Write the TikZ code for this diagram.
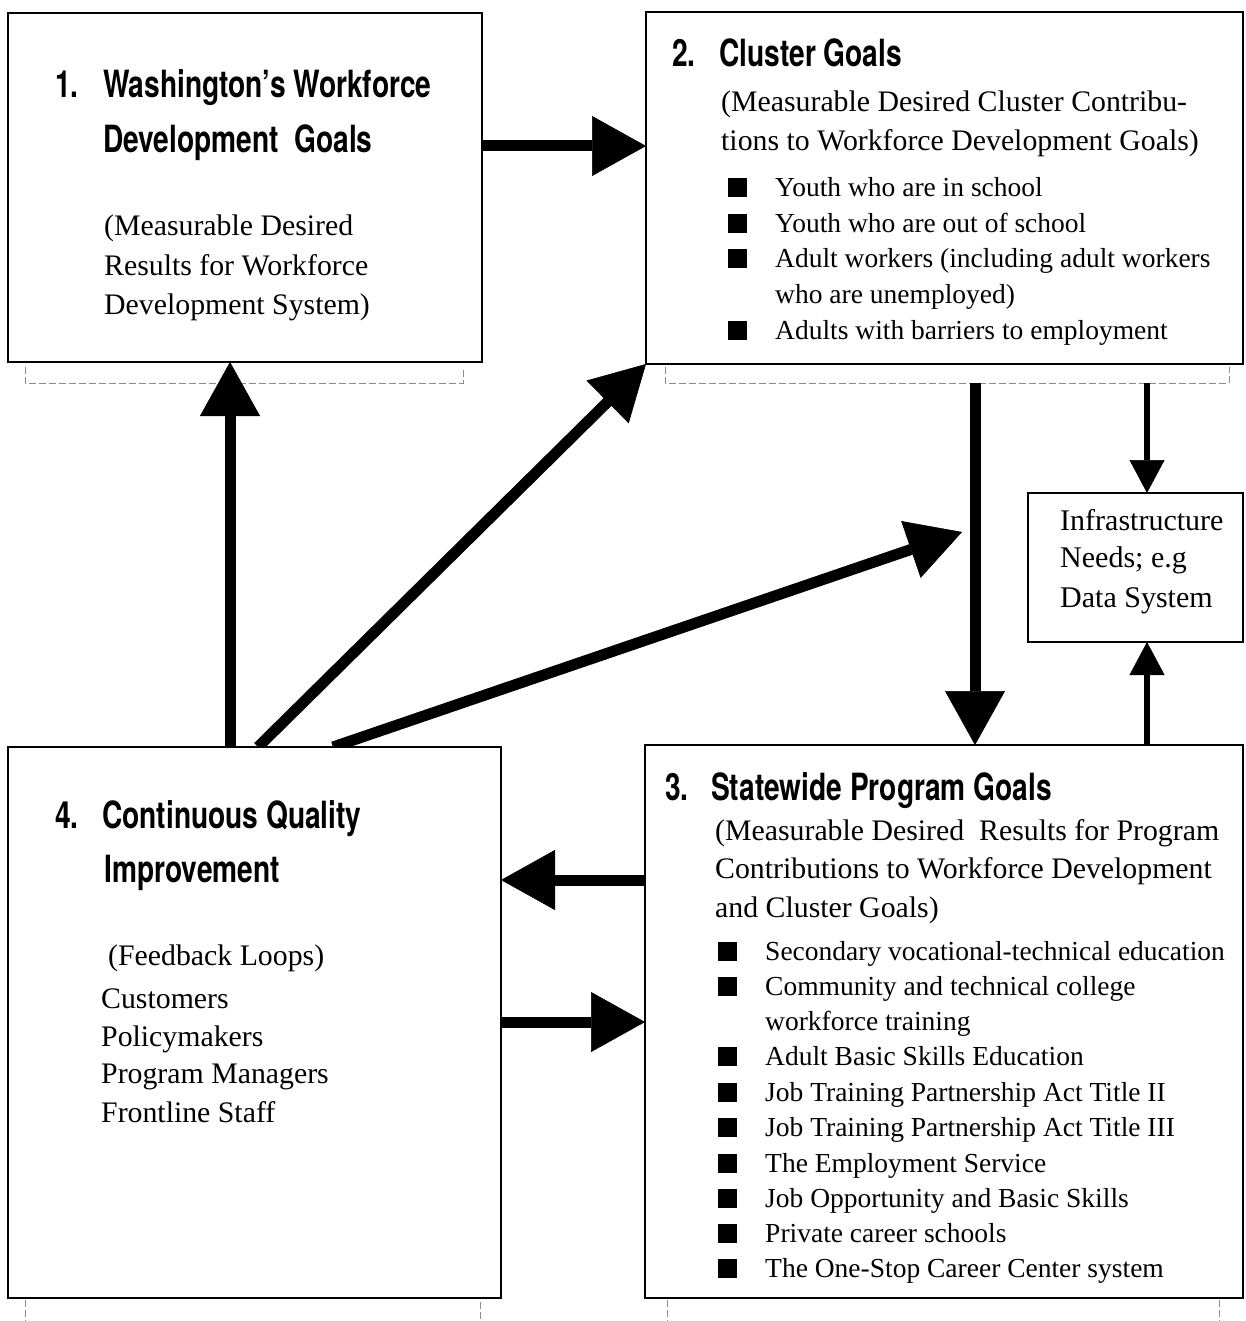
\documentclass[tikz,border=0pt]{standalone}
\usepackage{fontspec}
\setmainfont{Liberation Serif}
\newfontfamily\hdfont[FakeStretch=0.75]{TeX Gyre Heros}
\usetikzlibrary{arrows.meta,backgrounds}
\begin{document}
\begin{tikzpicture}[x=1pt,y=-1pt,
  box/.style={draw, fill=white, line width=2.8pt, inner sep=0pt, outer sep=0pt, anchor=north west},
  hd/.style={inner sep=0pt, anchor=base west, font=\hdfont\bfseries\fontsize{37.5}{45}\selectfont},
  tx/.style={inner sep=0pt, anchor=base west, font=\fontsize{29.8}{36}\selectfont},
  li/.style={inner sep=0pt, anchor=base west, font=\fontsize{27.5}{34}\selectfont},
  bul/.style={fill, inner sep=0pt, minimum size=19pt},
  bigarrow/.style={line width=11pt, -{Triangle[width=60pt,length=54pt,line width=0.5pt]}},
  smallarrow/.style={line width=6pt, -{Triangle[width=35pt,length=33pt,line width=0.5pt]}},
  faint/.style={black!45, line width=0.8pt, dash pattern=on 7pt off 3pt}
]
\useasboundingbox (0,0) rectangle (1245,1321);

% boxes
\node[box, minimum width=474pt, minimum height=349pt] (b1) at (8,13) {};
\node[box, minimum width=597pt, minimum height=352pt] (b2) at (646,12) {};
\node[box, minimum width=598pt, minimum height=553pt] (b3) at (645,745) {};
\node[box, minimum width=493pt, minimum height=551pt] (b4) at (8,747) {};
\node[box, minimum width=215pt, minimum height=149pt] (inf) at (1028,493) {};

% helper coordinates
\coordinate (ya) at (0,146);
\coordinate (yb) at (0,880);
\coordinate (yc) at (0,1022);
\coordinate (xa) at (230,0);
\coordinate (xb) at (258,0);
\coordinate (xc) at (333,0);
\coordinate (xd) at (975,0);
\coordinate (xe) at (1147,0);
\coordinate (b2x) at (0,383);
\coordinate (t) at (962,532);

\begin{pgfonlayer}{background}
\fill[white] (0,0) rectangle (1245,1321);
\draw[faint] (25,367) -- (25,383) -- (463,383) -- (463,367);
\draw[faint] (665,367) -- (665,383) -- (1229,383) -- (1229,367);
\draw[faint] (25,1300) -- (25,1321);
\draw[faint] (480,1302) -- (480,1321);
\draw[faint] (667,1300) -- (667,1321);
\draw[faint] (1219,1300) -- (1219,1321);
\draw[bigarrow] (b1.east |- ya) -- (b2.west |- ya);
\draw[bigarrow] (b4.north -| xa) -- (b1.south -| xa);
\draw[bigarrow] (b4.north -| xb) -- (b2.south west);
\draw[bigarrow] (b4.north -| xc) -- (t);
\draw[bigarrow] (b2x -| xd) -- (b3.north -| xd);
\draw[smallarrow] (b2x -| xe) -- (inf.north -| xe);
\draw[smallarrow] (b3.north -| xe) -- (inf.south -| xe);
\draw[bigarrow] (b3.west |- yb) -- (b4.east |- yb);
\draw[bigarrow] (b4.east |- yc) -- (b3.west |- yc);
\end{pgfonlayer}

% box 1
\node[hd] (h1n) at (55,98) {1.};
\node[hd] (h1a) at (103,98) {Washington’s Workforce};
\node[hd] (h1b) at (103,153) {Development~ Goals};
\node[tx] (s1a) at (104,236) {(Measurable Desired};
\node[tx] (s1b) at (104,276) {Results for Workforce};
\node[tx] (s1c) at (104,315) {Development System)};

% box 2
\node[hd] (h2n) at (672,67) {2.};
\node[hd] (h2a) at (719,67) {Cluster Goals};
\node[tx] (s2a) at (721,112) {(Measurable Desired Cluster Contribu-};
\node[tx] (s2b) at (721,151) {tions to Workforce Development Goals)};
\node[bul] (q21) at (737,188) {};
\node[bul] (q22) at (737,224) {};
\node[bul] (q23) at (737,259) {};
\node[bul] (q24) at (737,330) {};
\node[li] (l21) at (775,197) {Youth who are in school};
\node[li] (l22) at (775,233) {Youth who are out of school};
\node[li] (l23) at (775,268) {Adult workers (including adult workers};
\node[li] (l23b) at (775,304) {who are unemployed)};
\node[li] (l24) at (775,339) {Adults with barriers to employment};

% infrastructure
\node[tx, font=\fontsize{30}{36}\selectfont] (i1) at (1060,530) {Infrastructure};
\node[tx, font=\fontsize{30}{36}\selectfont] (i2) at (1060,567) {Needs; e.g};
\node[tx, font=\fontsize{30}{36}\selectfont] (i3) at (1060,607) {Data System};

% box 3
\node[hd] (h3n) at (665,800) {3.};
\node[hd] (h3a) at (711,800) {Statewide Program Goals};
\node[tx] (s3a) at (715,840) {(Measurable Desired~ Results for Program};
\node[tx] (s3b) at (715,878) {Contributions to Workforce Development};
\node[tx] (s3c) at (715,917) {and Cluster Goals)};
\node[bul] (q31) at (727,951) {};
\node[bul] (q32) at (727,986) {};
\node[bul] (q33) at (727,1056) {};
\node[bul] (q34) at (727,1092) {};
\node[bul] (q35) at (727,1127) {};
\node[bul] (q36) at (727,1163) {};
\node[bul] (q37) at (727,1198) {};
\node[bul] (q38) at (727,1233) {};
\node[bul] (q39) at (727,1268) {};
\node[li] (l31) at (765,960) {Secondary vocational-technical education};
\node[li] (l32) at (765,995) {Community and technical college};
\node[li] (l32b) at (765,1030) {workforce training};
\node[li] (l33) at (765,1065) {Adult Basic Skills Education};
\node[li] (l34) at (765,1101) {Job Training Partnership Act Title II};
\node[li] (l35) at (765,1136) {Job Training Partnership Act Title III};
\node[li] (l36) at (765,1172) {The Employment Service};
\node[li] (l37) at (765,1207) {Job Opportunity and Basic Skills};
\node[li] (l38) at (765,1242) {Private career schools};
\node[li] (l39) at (765,1277) {The One-Stop Career Center system};

% box 4
\node[hd] (h4n) at (55,828) {4.};
\node[hd] (h4a) at (102,828) {Continuous Quality};
\node[hd] (h4b) at (104,882) {Improvement};
\node[tx] (s4a) at (108,965) {(Feedback Loops)};
\node[tx] (s4b) at (101,1008) {Customers};
\node[tx] (s4c) at (101,1046) {Policymakers};
\node[tx] (s4d) at (101,1083) {Program Managers};
\node[tx] (s4e) at (101,1122) {Frontline Staff};
\end{tikzpicture}
\end{document}
